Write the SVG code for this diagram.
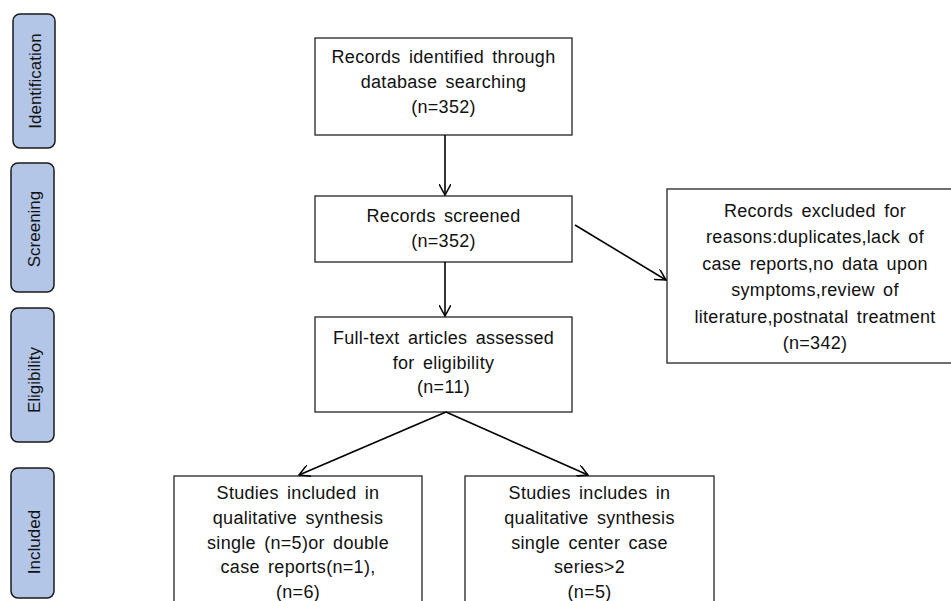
<svg xmlns="http://www.w3.org/2000/svg" width="951" height="601" viewBox="0 0 951 601">
<defs>
<marker id="arr" viewBox="0 0 12 12" refX="11" refY="6" markerWidth="12" markerHeight="12" markerUnits="userSpaceOnUse" orient="auto">
<path d="M0,0 L11,6 L0,12" fill="none" stroke="#000" stroke-width="1.5"/>
</marker>
<style>
.side rect{fill:#b4c6e7;stroke:#1a1a1a;stroke-width:1.5}
.side text{font-family:"Liberation Sans",Arial,sans-serif;font-size:17px;fill:#111;text-anchor:middle}
.box rect{fill:#fff;stroke:#222;stroke-width:1.3}
.box text{font-family:"Liberation Sans","Noto Sans CJK KR",sans-serif;font-size:18px;fill:#111;text-anchor:middle;word-spacing:3px;letter-spacing:0.3px}
.conn line{stroke:#000;stroke-width:1.6;marker-end:url(#arr)}
</style>
</defs>
<rect width="951" height="601" fill="#fff"/>
<g id="side-identification" class="side"><rect x="13" y="14" width="42" height="134" rx="7"/><text transform="translate(41,81) rotate(-90)">Identification</text></g>
<g id="side-screening" class="side"><rect x="11" y="163" width="43" height="129" rx="7"/><text transform="translate(40,229) rotate(-90)">Screening</text></g>
<g id="side-eligibility" class="side"><rect x="11" y="308" width="43" height="134" rx="7"/><text transform="translate(40,380) rotate(-90)">Eligibility</text></g>
<g id="side-included" class="side"><rect x="11" y="468" width="43" height="130" rx="7"/><text transform="translate(40,542) rotate(-90)">Included</text></g>

<g id="identified" class="box"><rect x="315" y="38" width="257" height="97"/>
<text x="443.5" y="63">Records identified through</text>
<text x="443.5" y="88">database searching</text>
<text x="443.5" y="113">(n=352)</text></g>

<g id="screened" class="box"><rect x="315" y="196" width="257" height="66"/>
<text x="443.5" y="222">Records screened</text>
<text x="443.5" y="247">(n=352)</text></g>

<g id="fulltext" class="box"><rect x="315" y="317" width="257" height="95"/>
<text x="443.5" y="344">Full-text articles assessed</text>
<text x="443.5" y="369">for eligibility</text>
<text x="443.5" y="393">(n=11)</text></g>

<g id="excluded" class="box"><rect x="667" y="189" width="290" height="174"/>
<text x="815" y="217">Records excluded for</text>
<text x="815" y="243">reasons:duplicates,lack of</text>
<text x="815" y="270">case reports,no data upon</text>
<text x="815" y="296">symptoms,review of</text>
<text x="815" y="323">literature,postnatal treatment</text>
<text x="815" y="349">(n=342)</text></g>

<g id="included-case-reports" class="box"><rect x="174" y="476" width="248" height="140"/>
<text x="298" y="499">Studies included in</text>
<text x="298" y="524">qualitative synthesis</text>
<text x="298" y="549">single (n=5)or double</text>
<text x="298" y="573">case reports(n=1),</text>
<text x="298" y="598">(n=6)</text></g>

<g id="included-case-series" class="box"><rect x="465" y="476" width="249" height="140"/>
<text x="589.5" y="499">Studies includes in</text>
<text x="589.5" y="524">qualitative synthesis</text>
<text x="589.5" y="549">single center case</text>
<text x="589.5" y="573">series&gt;2</text>
<text x="589.5" y="598">(n=5)</text></g>

<g id="connectors" class="conn">
<line x1="445" y1="135" x2="445" y2="195"/>
<line x1="575" y1="225" x2="666" y2="280"/>
<line x1="445" y1="262" x2="445" y2="316"/>
<line x1="446" y1="412" x2="299" y2="475"/>
<line x1="446" y1="412" x2="588" y2="475"/>
</g>
</svg>
